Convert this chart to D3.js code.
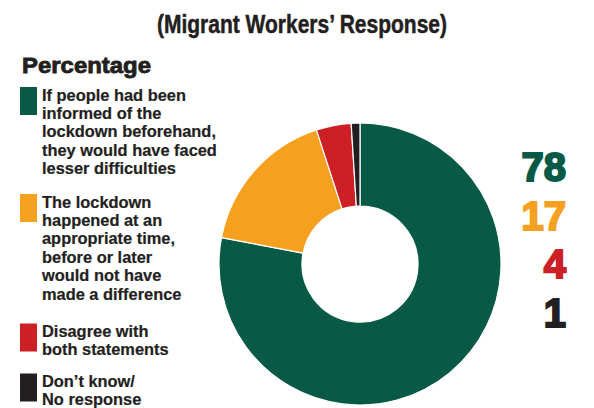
<!DOCTYPE html>
<html>
<head>
<meta charset="utf-8">
<script src="https://cdn.jsdelivr.net/npm/d3@7"></script>
<style>
  html, body { margin: 0; padding: 0; background: #fff; }
  svg { display: block; }
</style>
</head>
<body>
<svg id="chart" width="594" height="408"></svg>
<script>
// Survey responses (percentage of migrant workers)
const categories = [
  ["If people had been", "informed of the", "lockdown beforehand,", "they would have faced", "lesser difficulties"],
  ["The lockdown", "happened at an", "appropriate time,", "before or later", "would not have", "made a difference"],
  ["Disagree with", "both statements"],
  ["Don\u2019t know/", "No response"]
];
const values = [78, 17, 4, 1];
const colors = ["#085a46", "#f5a11f", "#cc1f26", "#231f20"];
const title = "(Migrant Workers\u2019 Response)";
const legendTitle = "Percentage";

const ink = "#231f20";
const font = "'Liberation Sans', Arial, Helvetica, sans-serif";
const svg = d3.select("#chart");

// Title
svg.append("text")
  .attr("x", 302).attr("y", 33)
  .attr("text-anchor", "middle")
  .attr("font-family", font).attr("font-weight", 700)
  .attr("font-size", 25.5).attr("fill", ink)
  .attr("stroke", ink).attr("stroke-width", 0.5)
  .attr("textLength", 290).attr("lengthAdjust", "spacingAndGlyphs")
  .text(title);

// Legend heading
svg.append("text")
  .attr("x", 22).attr("y", 72.5)
  .attr("font-family", font).attr("font-weight", 700)
  .attr("font-size", 21.5).attr("fill", ink)
  .attr("stroke", ink).attr("stroke-width", 0.8)
  .attr("textLength", 129).attr("lengthAdjust", "spacingAndGlyphs")
  .text(legendTitle);

// Legend entries
const lineH = 18.4;
const groupY = [100.5, 207.5, 337, 387];
const legend = svg.append("g");
categories.forEach((lines, i) => {
  const y0 = groupY[i];
  legend.append("rect")
    .attr("x", 20).attr("y", y0 - 13.5)
    .attr("width", 17).attr("height", 28)
    .attr("fill", colors[i]);
  const t = legend.append("text")
    .attr("font-family", font).attr("font-weight", 700)
    .attr("font-size", 16.4).attr("fill", ink)
    .attr("stroke", ink).attr("stroke-width", 0.2);
  lines.forEach((ln, j) => {
    t.append("tspan").attr("x", 42).attr("y", y0 + j * lineH).text(ln);
  });
});

// Donut
const cx = 360, cy = 264;
const pie = d3.pie().sort(null).value(d => d).startAngle(0).endAngle(2 * Math.PI);
const arc = d3.arc().innerRadius(58).outerRadius(141);
svg.append("g")
  .attr("transform", `translate(${cx},${cy})`)
  .selectAll("path")
  .data(pie(values))
  .join("path")
  .attr("d", arc)
  .attr("fill", (d, i) => colors[i])
  .attr("stroke", "#fff")
  .attr("stroke-width", 1.2)
  .attr("stroke-linejoin", "round");

// Value labels
const labelY = d3.scaleLinear().domain([0, values.length - 1]).range([181, 327]);
svg.append("g")
  .selectAll("text")
  .data(values)
  .join("text")
  .attr("x", 566)
  .attr("y", (d, i) => labelY(i))
  .attr("text-anchor", "end")
  .attr("font-family", font).attr("font-weight", 700)
  .attr("font-size", 40)
  .attr("fill", (d, i) => colors[i])
  .attr("stroke", (d, i) => colors[i])
  .attr("stroke-width", 2)
  .text(d => d);
</script>
</body>
</html>
